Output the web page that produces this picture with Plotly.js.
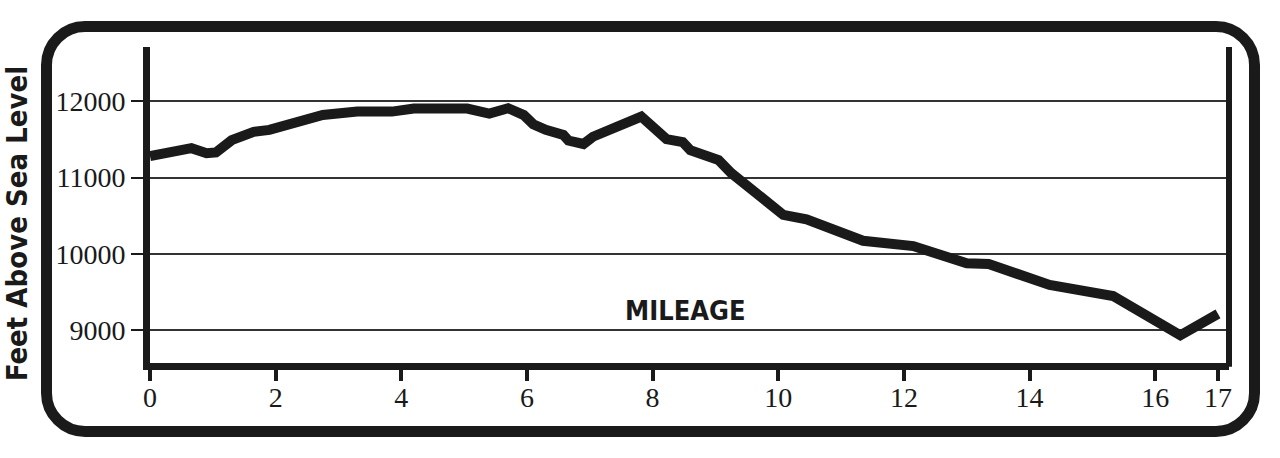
<!DOCTYPE html>
<html>
<head>
<meta charset="utf-8">
<script src="https://cdn.plot.ly/plotly-3.0.1.min.js"></script>
<style>
  html, body { margin: 0; padding: 0; background: #ffffff; }
  #wrap { position: relative; width: 1280px; height: 458px; overflow: hidden; }
  #chart { position: absolute; left: 0; top: 0; width: 1280px; height: 458px; }
  #frame { position: absolute; left: 41px; top: 21px; width: 1219px; height: 416px;
           box-sizing: border-box; border: 11px solid #1a1a1a; border-radius: 44px;
           pointer-events: none; }
</style>
</head>
<body>
<div id="wrap">
  <div id="chart"></div>
  <div id="frame"></div>
</div>
<script>
// Trail elevation profile (miles vs feet above sea level)
const mileage = [0.0, 0.3, 0.6, 0.66, 0.9, 1.05, 1.3, 1.65, 1.9, 2.25, 2.75, 3.3, 3.85, 4.2, 4.6,
                 5.05, 5.4, 5.7, 5.95, 6.1, 6.3, 6.58, 6.66, 6.9, 7.05, 7.55, 7.82, 8.22, 8.48, 8.6,
                 9.05, 9.25, 10.08, 10.45, 11.35, 12.15, 13.0, 13.35, 14.15, 14.32, 15.33, 16.4, 17.0];
const elevation = [11280, 11340, 11390, 11385, 11320, 11330, 11490, 11600, 11625, 11710, 11820, 11865, 11865, 11905, 11915,
                   11905, 11840, 11910, 11820, 11700, 11625, 11560, 11485, 11440, 11535, 11710, 11800, 11505, 11465, 11360,
                   11230, 11060, 10510, 10450, 10170, 10100, 9875, 9865, 9655, 9590, 9445, 8930, 9210];

const xTickVals = [0, 2, 4, 6, 8, 10, 12, 14, 16, 17];
const yTickVals = [9000, 10000, 11000, 12000];
const yAxisTitle = 'Feet Above Sea Level';
const xAxisLabel = 'MILEAGE';

const ink = '#1a1a1a';
const serif = 'Liberation Serif, "DejaVu Serif", serif';
const narrow = '"DejaVu Sans Condensed", "DejaVu Sans", sans-serif';

const trace = {
  x: mileage,
  y: elevation,
  type: 'scatter',
  mode: 'lines',
  line: { color: ink, width: 10, shape: 'linear' },
  hoverinfo: 'skip',
  cliponaxis: false
};

const layout = {
  width: 1280,
  height: 458,
  margin: { l: 150, r: 51, t: 47, b: 95 },
  paper_bgcolor: 'rgba(0,0,0,0)',
  plot_bgcolor: 'rgba(0,0,0,0)',
  showlegend: false,
  xaxis: {
    range: [0, 17.175],
    tickvals: xTickVals,
    ticktext: xTickVals.map(String),
    ticks: 'outside',
    ticklen: 11,
    tickwidth: 4,
    tickcolor: ink,
    ticklabelstandoff: -8,
    showline: true,
    linewidth: 7,
    linecolor: ink,
    showgrid: false,
    zeroline: false,
    tickfont: { family: serif, size: 28, color: ink },
    fixedrange: true
  },
  yaxis: {
    range: [8566, 12713],
    tickvals: yTickVals,
    ticktext: yTickVals.map(String),
    ticks: 'outside',
    ticklen: 12,
    tickwidth: 2,
    tickcolor: ink,
    showline: true,
    linewidth: 7,
    linecolor: ink,
    showgrid: true,
    gridcolor: '#333333',
    gridwidth: 2,
    zeroline: false,
    tickfont: { family: serif, size: 28, color: ink },
    fixedrange: true
  },
  shapes: [
    { type: 'line', xref: 'paper', yref: 'paper', x0: 1, x1: 1, y0: -0.012, y1: 1,
      line: { color: ink, width: 6 } }
  ],
  annotations: [
    { text: '<b>' + yAxisTitle + '</b>', xref: 'paper', yref: 'paper', x: -0.123, y: 0.44,
      xanchor: 'center', yanchor: 'middle', textangle: -90, showarrow: false,
      font: { family: narrow, size: 29, color: ink } },
    { text: '<b>' + xAxisLabel + '</b>', xref: 'x', yref: 'y', x: 8.53, y: 9260,
      xanchor: 'center', yanchor: 'middle', showarrow: false,
      font: { family: narrow, size: 27, color: ink } }
  ]
};

Plotly.newPlot('chart', [trace], layout, { staticPlot: true, displayModeBar: false });
</script>
</body>
</html>
